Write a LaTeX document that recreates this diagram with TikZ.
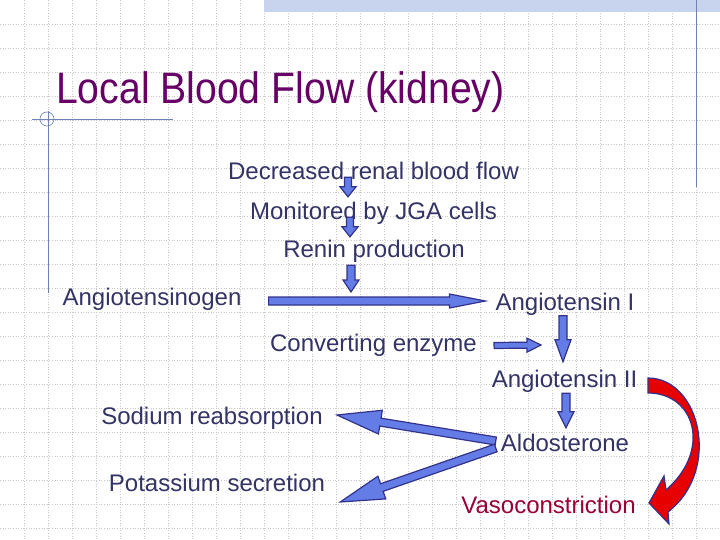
\documentclass[tikz,border=0pt]{standalone}
\usepackage{fontspec}
\setmainfont{Liberation Sans}
\newfontfamily\titlefont{Liberation Sans}[FakeStretch=0.89]
\usetikzlibrary{positioning, calc}
\definecolor{textcol}{RGB}{51,51,102}
\definecolor{titlecol}{RGB}{102,0,102}
\definecolor{vasocol}{RGB}{153,0,51}
\definecolor{arrowfill}{RGB}{100,125,230}
\definecolor{arrowline}{RGB}{50,50,140}
\definecolor{redfill}{RGB}{230,0,0}
\definecolor{decocol}{RGB}{110,130,180}
\definecolor{bandcol}{RGB}{200,212,238}
\definecolor{gridcol}{RGB}{200,200,200}

\begin{document}
\begin{tikzpicture}[
    x=1pt, y=-1pt,
    txt/.style={
        inner sep=0pt,
        text=textcol,
        font=\fontsize{24}{28}\selectfont,
        text height=17pt,
        text depth=5pt
    },
    blk/.style={fill=arrowfill, draw=arrowline, line width=1.2pt, line join=miter},
    fat/.style n args={3}{
        to path={let \p1=(\tikztostart), \p2=(\tikztotarget),
            \n1={atan2(\y2-\y1,\x2-\x1)}, \n2={veclen(\x2-\x1,\y2-\y1)} in
            ([shift={(\p1)},rotate=\n1]0pt,-#1)
            -- ([shift={(\p1)},rotate=\n1]\n2-#3,-#1)
            -- ([shift={(\p1)},rotate=\n1]\n2-#3,-#2)
            -- ([shift={(\p1)},rotate=\n1]\n2,0pt)
            -- ([shift={(\p1)},rotate=\n1]\n2-#3,#2)
            -- ([shift={(\p1)},rotate=\n1]\n2-#3,#1)
            -- ([shift={(\p1)},rotate=\n1]0pt,#1) -- cycle}
    },
    gridline/.style={gridcol, dotted, line width=0.6pt}
]
\useasboundingbox (0,0) rectangle (720,540);
\fill[white] (0,0) rectangle (720,540);

% background grid and slide decoration
\foreach \x in {24,48,...,696} \draw[gridline] (\x,0) -- (\x,540);
\foreach \y in {24,48,...,528} \draw[gridline] (0,\y) -- (720,\y);
\fill[bandcol] (264,0) rectangle (720,12);
\draw[decocol, line width=1pt] (696,0) -- (696,187);
\draw[decocol, line width=0.8pt] (32,119) -- (173,119);
\draw[decocol, line width=0.8pt] (48,111) -- (48,293);
\draw[decocol, line width=0.6pt] (47,119) circle (7);

% title
\node[anchor=base west, inner sep=0pt, text=titlecol,
      font=\titlefont\fontsize{44}{50}\selectfont] (title) at (56,104) {Local Blood Flow (kidney)};

% steps
\node[txt] (dec) at (373.5,173.5) {Decreased renal blood flow};
\node[txt] (mon) at (373.5,213.5) {Monitored by JGA cells};
\node[txt] (ren) at (374,251.5) {Renin production};
\node[txt] (agen) at (152,299.5) {Angiotensinogen};
\node[txt] (ang1) at (565,304.5) {Angiotensin I};
\node[txt] (conv) at (373.5,345.5) {Converting enzyme};
\node[txt] (ang2) at (564.5,381.5) {Angiotensin II};
\node[txt] (sod) at (212,418.5) {Sodium reabsorption};
\node[txt] (ald) at (565,445.5) {Aldosterone};
\node[txt] (pot) at (217,485.5) {Potassium secretion};
\node[txt, text=vasocol] (vaso) at (548.5,507.5) {Vasoconstriction};

\coordinate (join) at (351,292);
\coordinate (cv) at (541,345);

% block arrows
\draw[blk] ([xshift=-25.5pt,yshift=7.5pt]dec.south) to[fat={3.5pt}{8pt}{10pt}] ([xshift=-25.5pt,yshift=5.5pt]mon.north);
\draw[blk] ([xshift=-23.5pt,yshift=7.5pt]mon.south) to[fat={3.5pt}{8pt}{10pt}] ([xshift=-24pt,yshift=3.5pt]ren.north);
\draw[blk] ([xshift=-23pt,yshift=-2.5pt]ren.south) to[fat={4pt}{8pt}{12pt}] (join);
\draw[blk] ([xshift=27pt,yshift=-1.5pt]agen.east) to[fat={4pt}{7pt}{36pt}] ([xshift=-10pt,yshift=3.5pt]ang1.west);
\draw[blk] ([xshift=-2pt]ang1.south) to[fat={4pt}{8pt}{22pt}] ([xshift=-1.5pt,yshift=8.5pt]ang2.north);
\draw[blk] ([xshift=17pt]conv.east) to[fat={3pt}{7pt}{14pt}] (cv);
\draw[blk] ([xshift=1.5pt,yshift=-0.5pt]ang2.south) to[fat={4pt}{8pt}{16pt}] ([xshift=1pt,yshift=6.5pt]ald.north);
\draw[blk] ([xshift=-5pt,yshift=4.5pt]ald.west) to[fat={4pt}{12pt}{44pt}] ([xshift=14pt,yshift=3.5pt]sod.east);
\draw[blk] ([xshift=-5pt,yshift=-2.5pt]ald.west) to[fat={4pt}{12pt}{44pt}] ([xshift=15pt,yshift=-16.5pt]pot.east);

% curved red arrow
\draw[fill=redfill, draw=arrowline, line width=1.2pt, line join=miter]
    (648,378) .. controls (700,378) and (722,470) .. (668,512)
    -- (669,524) -- (649,503) -- (664,476) -- (666,490)
    .. controls (712,450) and (695,393) .. (648,393) -- cycle;

\end{tikzpicture}
\end{document}
